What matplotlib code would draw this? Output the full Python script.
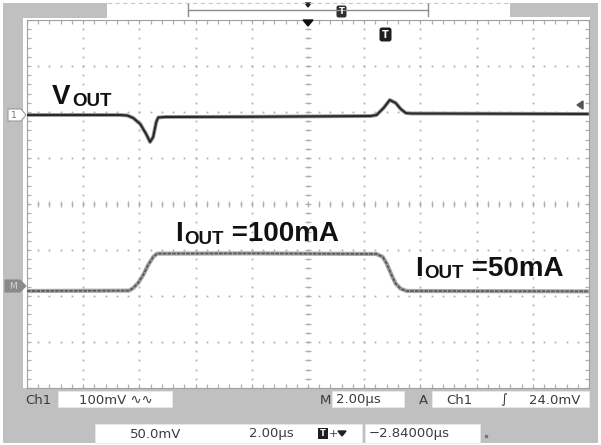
import numpy as np
import matplotlib
matplotlib.use("Agg")
import matplotlib.pyplot as plt
from matplotlib.patches import Rectangle, FancyBboxPatch, Polygon

# ---------------- data ----------------
# Channel 1 : VOUT (AC-coupled), mV relative to the ch1 reference marker
vout_t_us = [0.00, 3.32, 3.57, 3.78, 4.03, 4.24, 4.38, 4.49, 4.60, 4.67, 4.92,
             7.95, 12.23, 12.44, 12.69, 12.91, 13.12, 13.30, 13.48, 13.66, 19.96]
vout_mv = [0.0, 0.0, -1.1, -6.5, -19.6, -41.3, -58.7, -47.8, -15.2, -5.4, -4.3,
           -3.9, -2.2, 0.0, 15.2, 32.6, 26.1, 13.0, 4.3, 3.3, 2.2]

# Math channel : load current IOUT in mA
iout_t_us = [0.00, 3.64, 3.78, 3.96, 4.14, 4.31, 4.49, 4.63, 7.95, 12.44,
             12.66, 12.80, 12.98, 13.12, 13.30, 13.51, 19.96]
iout_ma = [50, 50.5, 54, 61, 72, 85, 96, 100.5, 100.8, 100,
           96, 87, 71, 60, 53, 50, 49.5]

vout_label = ("V", "OUT")
iout_high_label = ("I", "OUT", " =100mA")
iout_low_label = ("I", "OUT", " =50mA")

ch1_readout = ["Ch1", "100mV \u223f\u223f"]
time_readout = ["M", "2.00\u00b5s"]
trig_readout = ["A", "Ch1", "\u222b", "24.0mV"]
math_readout = ["50.0mV", "2.00\u00b5s", "\u22122.84000\u00b5s"]

# scope settings
US_PER_DIV = 2.0
CH1_MV_PER_DIV = 100.0
CH1_POS_DIV = 1.935
MATH_POS_DIV = -1.891     # level of 50 mA
MATH_DIV_PER_MA = 0.01609

# ---------------- figure ----------------
W, H = 601, 445
fig = plt.figure(figsize=(W / 100, H / 100), dpi=100)
fig.patch.set_facecolor("white")

GRAY = "#c0c0c0"
GRID = "#b0b0b0"
TXT = "#3c3c3c"

# background frame (pixel coordinates)
bg = fig.add_axes([0, 0, 1, 1], zorder=0)
bg.set_xlim(0, W); bg.set_ylim(H, 0); bg.axis("off")
for (x0, y0, w, h) in [(3, 3, 20, 440), (3, 3, 104, 15), (510, 3, 88, 14),
                       (590, 3, 8, 440), (3, 388, 595, 55)]:
    bg.add_patch(Rectangle((x0, y0), w, h, facecolor=GRAY, edgecolor="none"))

# graticule axes
L, R, T, B = 27, 589, 20, 388
ax = fig.add_axes([L / W, 1 - B / H, (R - L) / W, (B - T) / H], zorder=1)
ax.set_facecolor("white")
ax.set_xlim(0, 10); ax.set_ylim(-4, 4)
ax.set_xticks([]); ax.set_yticks([])
for s in ax.spines.values():
    s.set_color("#a0a0a0"); s.set_linewidth(0.8)

minor_x = np.arange(0, 10.001, 0.2)
minor_y = np.arange(-4, 4.001, 0.2)
for i in range(1, 10):
    if i == 5:
        continue
    ax.plot(np.full_like(minor_y, i), minor_y, ls="none", marker="s", ms=1.3,
            mew=0, color=GRID)
for j in range(-3, 4):
    if j == 0:
        continue
    ax.plot(minor_x, np.full_like(minor_x, j), ls="none", marker="s", ms=1.3,
            mew=0, color=GRID)
# centre cross with minor ticks
ax.plot(np.full_like(minor_y, 5), minor_y, ls="none", marker="s", ms=1.3, mew=0, color=GRID)
ax.plot(minor_x, np.zeros_like(minor_x), ls="none", marker="s", ms=1.3, mew=0, color=GRID)
ax.hlines(minor_y, 5 - 0.055, 5 + 0.055, color=GRID, lw=0.9)
ax.vlines(minor_x, -0.07, 0.07, color=GRID, lw=0.9)
# border ticks
ax.vlines(minor_x, 4 - 0.08, 4, color=GRID, lw=0.9)
ax.vlines(minor_x, -4, -4 + 0.08, color=GRID, lw=0.9)
ax.hlines(minor_y, 0, 0.065, color=GRID, lw=0.9)
ax.hlines(minor_y, 10 - 0.065, 10, color=GRID, lw=0.9)

# traces
vt = np.array(vout_t_us) / US_PER_DIV
vy = CH1_POS_DIV + np.array(vout_mv) / CH1_MV_PER_DIV
ax.plot(vt, vy, color="#9a9a9a", lw=2.8, solid_capstyle="round", zorder=3)
ax.plot(vt, vy, color="#2a2a2a", lw=1.5, solid_capstyle="round", zorder=4)

it = np.array(iout_t_us) / US_PER_DIV
iy = MATH_POS_DIV + (np.array(iout_ma) - 50) * MATH_DIV_PER_MA
ax.plot(it, iy, color="#a8a8a8", lw=3.0, zorder=3)
ax.plot(it, iy, color="#5a5a5a", lw=1.3, ls=(0, (2.0, 0.6)), zorder=4)

# overlay: markers and text (pixel coordinates)
ov = fig.add_axes([0, 0, 1, 1], zorder=5)
ov.set_xlim(0, W); ov.set_ylim(H, 0); ov.axis("off")
ov.patch.set_alpha(0)

# top bar
ov.plot([107, 510], [2.5, 2.5], color="#c8c8c8", lw=0.8, ls=(0, (4, 3)))
ov.plot([188, 428], [10, 10], color="#8c8c8c", lw=1.0)
ov.plot([188, 188], [4, 16], color="#8c8c8c", lw=1.0)
ov.plot([428, 428], [4, 16], color="#8c8c8c", lw=1.0)
ov.add_patch(Polygon([[305, 3], [311, 3], [308, 7]], closed=True, color="#202020"))
ov.add_patch(FancyBboxPatch((337, 6), 9, 11, boxstyle="round,pad=0.5,rounding_size=2",
                            facecolor="#303030", edgecolor="none"))
ov.text(341.5, 11.5, "T", color="white", fontsize=6, ha="center", va="center", weight="bold")
# trigger position and trigger point marks
ov.add_patch(Polygon([[303, 20], [313, 20], [308, 26]], closed=True, color="#111111"))
ov.add_patch(FancyBboxPatch((380, 28), 11, 13, boxstyle="round,pad=0.5,rounding_size=2.5",
                            facecolor="#1e1e1e", edgecolor="none"))
ov.text(385.5, 34.5, "T", color="white", fontsize=7, ha="center", va="center", weight="bold")
# trigger level arrow
ov.add_patch(Polygon([[577, 105], [583, 101], [583, 109]], closed=True, color="#555555"))
# channel markers
ov.add_patch(Polygon([[8, 109], [21, 109], [26, 115], [21, 121], [8, 121]], closed=True,
                     facecolor="white", edgecolor="#9a9a9a", lw=0.8))
ov.text(14, 115.5, "1", color="#707070", fontsize=6.5, ha="center", va="center")
ov.add_patch(Polygon([[5, 280], [20, 280], [26, 286], [20, 292], [5, 292]], closed=True,
                     facecolor="#8a8a8a", edgecolor="#8a8a8a", lw=0.8))
ov.text(12.5, 286.5, "M", color="#d8d8d8", fontsize=6.5, ha="center", va="center")

# trace labels
LF = "Liberation Sans"
def sub_label(x, y, parts, big=20, small=13.5):
    t = ov.text(x, y, parts[0], fontsize=big, weight="bold", family=LF, va="baseline",
                color="#111111")
    fig.canvas.draw()
    bb = t.get_window_extent()
    x2 = x + bb.width + 1.5
    t2 = ov.text(x2, y + 2.5, parts[1], fontsize=small, weight="bold", family=LF,
                 va="baseline", color="#111111")
    if len(parts) > 2:
        fig.canvas.draw()
        bb2 = t2.get_window_extent()
        ov.text(x2 + bb2.width, y, parts[2], fontsize=big, weight="bold", family=LF,
                va="baseline", color="#111111")

sub_label(52, 104, vout_label)
sub_label(175, 241, iout_high_label)
sub_label(415, 276, iout_low_label)

# bottom readouts
FS = 9.5
def box(x0, y0, w, h):
    ov.add_patch(Rectangle((x0, y0), w, h, facecolor="white", edgecolor="#e8e8e8", lw=0.6))

box(58, 391, 114, 16)
box(332, 391, 72, 16)
box(432, 391, 157, 16)
ov.text(25, 400, ch1_readout[0], fontsize=FS, color=TXT, va="center")
ov.text(79, 400, ch1_readout[1], fontsize=FS, color=TXT, va="center")
ov.text(320, 400, time_readout[0], fontsize=FS, color=TXT, va="center")
ov.text(336, 400, time_readout[1], fontsize=FS, color=TXT, va="center")
ov.text(419, 400, trig_readout[0], fontsize=FS, color=TXT, va="center")
ov.text(446, 400, trig_readout[1], fontsize=FS, color=TXT, va="center")
ov.text(500, 400, trig_readout[2], fontsize=FS, color=TXT, va="center")
ov.text(529, 400, trig_readout[3], fontsize=FS, color=TXT, va="center")

box(95, 424, 267, 19)
box(365, 424, 115, 19)
ov.text(130, 434, math_readout[0], fontsize=FS, color=TXT, va="center")
ov.text(249, 434, math_readout[1], fontsize=FS, color=TXT, va="center")
ov.add_patch(Rectangle((318, 428), 10, 11, facecolor="#1e1e1e", edgecolor="none"))
ov.text(323, 433.5, "T", color="white", fontsize=6, ha="center", va="center", weight="bold")
ov.text(329, 434, "+", fontsize=8, color=TXT, va="center")
ov.add_patch(Polygon([[338, 431], [346, 431], [342, 436]], closed=True, color="#202020"))
ov.text(369, 434, math_readout[2], fontsize=FS, color=TXT, va="center")
ov.plot([486], [436], marker="s", ms=1.5, color="#777777")

fig.savefig("out.png", dpi=100)
